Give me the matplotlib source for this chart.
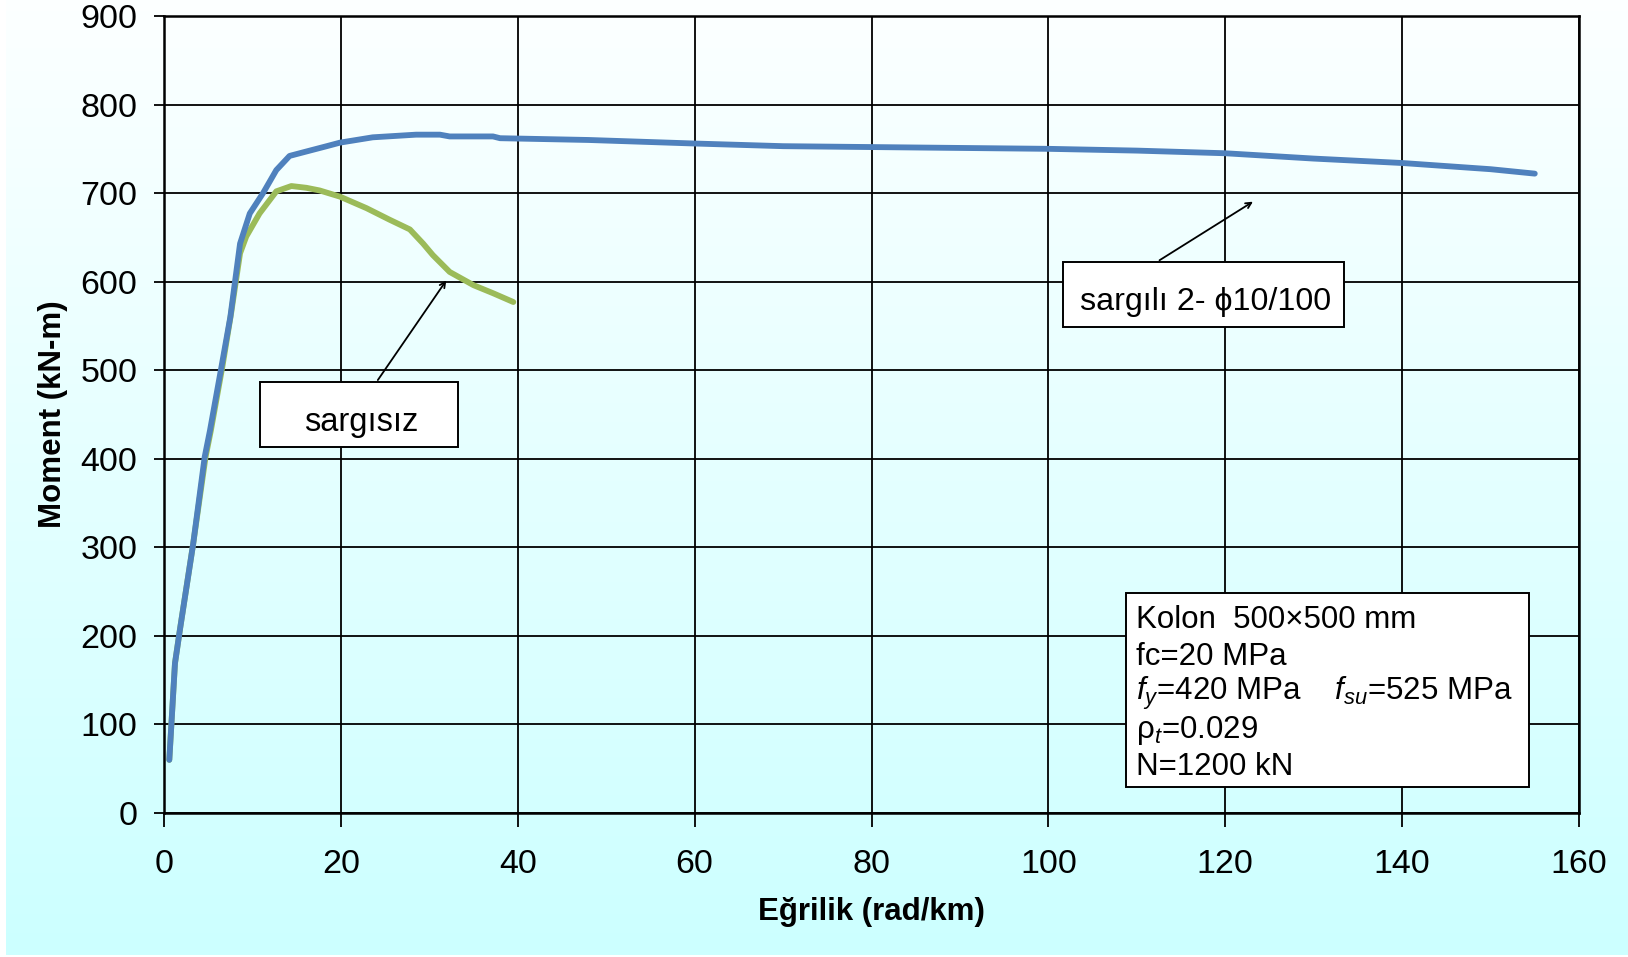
import numpy as np
import matplotlib

matplotlib.use("Agg")
import matplotlib.pyplot as plt
from matplotlib.patches import Rectangle

plt.rcParams["font.family"] = ["Liberation Sans", "DejaVu Sans"]
plt.rcParams["mathtext.fontset"] = "custom"
plt.rcParams["mathtext.rm"] = "Liberation Sans"
plt.rcParams["mathtext.it"] = "Liberation Sans:italic"

# sargili 2- phi10/100 (confined)
conf_x = [0.6, 1.24, 1.8, 3.3, 4.6, 5.2, 6.5, 7.5, 8.6, 9.7, 11.2, 12.7, 14.2,
          16.1, 18.4, 19.9, 23.6, 28.5, 31.2, 32.3, 37.2, 38.0, 48.0, 60.0,
          70.0, 80.0, 90.0, 100.0, 105.0, 110.0, 120.0, 130.0, 140.0, 150.0, 155.0]
conf_y = [60, 169, 207, 304, 402, 432, 504, 560, 643, 677, 700, 726, 742,
          747, 753, 757, 763, 766, 766, 764, 764, 762, 760, 756,
          753, 752, 751, 750, 749, 748, 745, 739, 734, 727, 722]

# sargisiz (unconfined)
unc_x = [0.6, 1.24, 1.8, 3.3, 4.7, 5.3, 6.6, 7.6, 8.6, 9.3, 10.8, 12.7, 14.4,
         16.1, 17.6, 19.9, 22.9, 25.5, 27.8, 29.3, 30.4, 32.3, 35.0, 37.2, 39.5]
unc_y = [60, 169, 207, 304, 402, 432, 504, 565, 632, 651, 677, 702, 708,
         706, 703, 696, 683, 670, 659, 643, 630, 611, 596, 587, 577]

x_ticks = [0, 20, 40, 60, 80, 100, 120, 140, 160]
y_ticks = [0, 100, 200, 300, 400, 500, 600, 700, 800, 900]

info_lines = [
    "Kolon  500×500 mm",
    "fc=20 MPa",
    "$f_y$=420 MPa    $f_{su}$=525 MPa",
    "ρ$_t$=0.029",
    "N=1200 kN",
]

fig = plt.figure(figsize=(16.28, 9.57), dpi=100)

# gradient background
bg = fig.add_axes([6 / 1628, 2 / 957, 1 - 6 / 1628, 1 - 2 / 957], zorder=-10)
grad = np.linspace(0, 1, 256).reshape(-1, 1)
top = np.array([0.99, 1.0, 1.0])
bottom = np.array([0.80, 1.0, 1.0])
img = top + (bottom - top) * grad[:, :, None]
bg.imshow(img, aspect="auto", extent=[0, 1, 0, 1])
bg.axis("off")

ax = fig.add_axes([164 / 1628, 1 - 813 / 957, (1579 - 164) / 1628, (813 - 16) / 957])
ax.patch.set_alpha(0)

ax.plot(unc_x, unc_y, color="#9BBB59", lw=4.2, solid_capstyle="round", zorder=3)
ax.plot(conf_x, conf_y, color="#4F81BD", lw=4.2, solid_capstyle="round", zorder=4)

ax.set_xlim(0, 160)
ax.set_ylim(0, 900)
ax.set_xticks(x_ticks)
ax.set_yticks(y_ticks)
ax.grid(True, color="black", lw=1.3)
ax.set_axisbelow(True)
for s in ax.spines.values():
    s.set_linewidth(1.8)
ax.tick_params(labelsize=24.5, length=7, width=1.3, pad=12, direction="out")
ax.tick_params(axis="x", length=10, pad=16)

ax.set_xlabel("Eğrilik (rad/km)", fontsize=22.5, fontweight="bold", labelpad=12)
ax.set_ylabel("Moment (kN-m)", fontsize=22.5, fontweight="bold", labelpad=9)

# label boxes
ax.add_patch(Rectangle((10.9, 413), 33.3 - 10.9, 486.3 - 413, facecolor="white",
                       edgecolor="black", lw=1.4, zorder=5))
ax.text(22.3, 441, "sargısız", fontsize=23.5, ha="center", va="center", zorder=6)
ax.annotate("", xy=(32.1, 604), xytext=(24.0, 486.3),
            arrowprops=dict(arrowstyle="->", color="black", lw=1.3), zorder=6)

ax.add_patch(Rectangle((101.6, 548.4), 133.4 - 101.6, 622.5 - 548.4, facecolor="white",
                       edgecolor="black", lw=1.4, zorder=5))
ax.text(117.8, 577, "sargılı 2- ϕ10/100", fontsize=23.2, ha="center", va="center", zorder=6)
ax.annotate("", xy=(123.4, 692), xytext=(112.3, 622.5),
            arrowprops=dict(arrowstyle="->", color="black", lw=1.3), zorder=6)

# info box
ax.add_patch(Rectangle((108.8, 29.7), 154.3 - 108.8, 248.8 - 29.7, facecolor="white",
                       edgecolor="black", lw=1.4, zorder=5))
for i, line in enumerate(info_lines):
    ax.text(109.9, 218 - i * 41.5, line, fontsize=22.5, ha="left", va="center", zorder=6)

fig.savefig("out.png", dpi=100)
